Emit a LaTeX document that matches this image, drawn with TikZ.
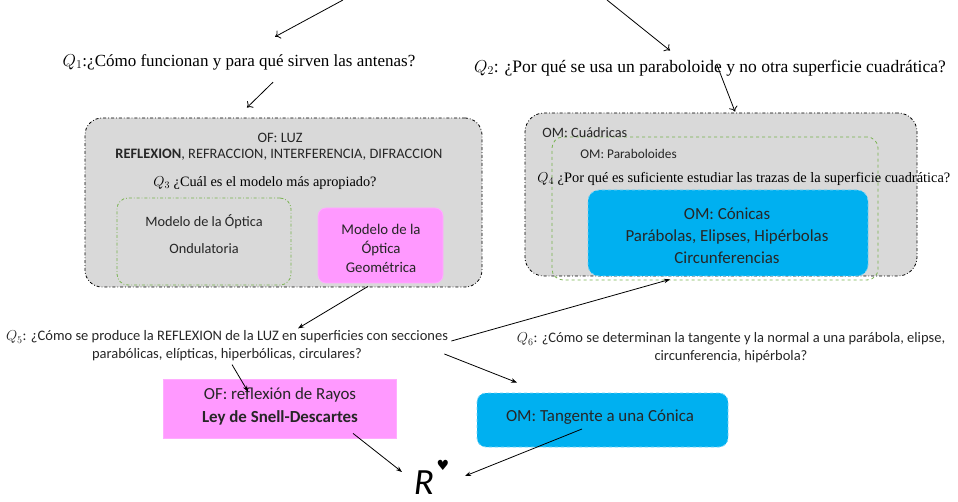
\documentclass[tikz,border=0pt]{standalone}
\usepackage{fontspec}
\setmainfont{Liberation Serif}
\newfontfamily\calib{Carlito}
\newfontfamily\dejav{DejaVu Sans}
\usetikzlibrary{arrows.meta}
\definecolor{grisbox}{RGB}{217,217,217}
\definecolor{rosa}{RGB}{255,153,255}
\definecolor{cian}{RGB}{0,176,240}
\definecolor{verde}{RGB}{120,178,78}
\newcommand{\pxsize}[2]{\fontsize{#1}{#2}\selectfont}

\begin{document}
\begin{tikzpicture}[x=1pt, y=-1pt, line width=0.8pt,
  serif/.style={inner sep=0pt, font=\pxsize{17}{19}},
  sans/.style={inner sep=0pt, align=center, text=black!85, font=\calib\pxsize{14.4}{18}},
  zona/.style={draw, dash dot, fill=grisbox, rounded corners=17pt},
  subzona/.style={draw=verde, rounded corners=11pt},
  rosabox/.style={fill=rosa, draw=rosa!80},
  cianbox/.style={fill=cian, draw=cian!55, dashed, rounded corners=9pt},
  abierta/.style={-{To[length=5pt,width=9pt]}},
  llena/.style={-{Stealth[length=6pt,width=4.5pt]}}]

  \useasboundingbox (0,0) rectangle (958,502);

  % preguntas de arriba
  \coordinate (t1) at (343,0);
  \coordinate (t2) at (607,0);
  \node[serif] (q1) at (239,62) {$Q_1$:¿Cómo funcionan y para qué sirven las antenas?};
  \node[serif, font=\pxsize{17.5}{19}] (q2) at (710,68) {$Q_2$: ¿Por qué se usa un paraboloide y no otra superficie cuadrática?};

  % OF: luz
  \node[zona, minimum width=397, minimum height=169] (luz) at (283.5,202.5) {};
  \node[sans] (ofluz) at (280,138) {OF: LUZ};
  \node[sans] (fen) at (279,155) {\textbf{REFLEXION}, REFRACCION, INTERFERENCIA, DIFRACCION};
  \node[serif, font=\pxsize{14.3}{16}] (q3) at (265,183) {$Q_3$ ¿Cuál es el modelo más apropiado?};
  \node[subzona, dash dot, minimum width=174, minimum height=87] (ond) at (204,241.5) {};
  \node[sans, font=\calib\pxsize{14.3}{27}] (ondtx) at (204,234.5) {Modelo de la Óptica\\ Ondulatoria};
  \node[rosabox, rounded corners=8pt, minimum width=125, minimum height=75] (geo) at (380.5,245.5) {};
  \node[sans, font=\calib\pxsize{14.8}{19}] (geotx) at (381,248) {Modelo de la\\ Óptica\\ Geométrica};

  % OM: cuadricas
  \node[zona, rounded corners=19pt, minimum width=392, minimum height=163] (om) at (721,194.5) {};
  \node[subzona, dashed, minimum width=326, minimum height=143] (parab) at (715,208.5) {};
  \node[sans, anchor=west, font=\calib\pxsize{14.3}{16}] (cuad) at (542,133) {OM: Cuádricas};
  \node[sans, anchor=west, font=\calib\pxsize{13.3}{16}] (partx) at (580,154) {OM: Paraboloides};
  \node[serif, anchor=west, font=\pxsize{14.4}{16}] (q4) at (537,179) {$Q_4$ ¿Por qué es suficiente estudiar las trazas de la superficie cuadrática?};
  \node[cianbox, rounded corners=11pt, minimum width=280, minimum height=86] (con) at (728,233) {};
  \node[sans, font=\calib\pxsize{16.9}{22}] (contx) at (727,236) {OM: Cónicas\\ Parábolas, Elipses, Hipérbolas\\ Circunferencias};

  % preguntas de abajo
  \node[sans, font=\calib\pxsize{14.5}{18}] (q5) at (227,346) {$Q_5$: ¿Cómo se produce la REFLEXION de la LUZ en superficies con secciones\\ parabólicas, elípticas, hiperbólicas, circulares?};
  \node[sans, font=\calib\pxsize{14.5}{18}] (q6) at (731,348) {$Q_6$: ¿Cómo se determinan la tangente y la normal a una parábola, elipse,\\ circunferencia, hipérbola?};

  \node[rosabox, minimum width=233, minimum height=59] (of) at (279.5,408.5) {};
  \node[sans, font=\calib\pxsize{16.9}{23}] (oftx) at (280,406.5) {OF: reflexión de Rayos\\ \textbf{Ley de Snell-Descartes}};
  \node[cianbox, minimum width=251, minimum height=54] (tan) at (602.5,420) {};
  \node[sans, font=\calib\pxsize{16.9}{18}] (tantx) at (600,417) {OM: Tangente a una Cónica};

  \node[inner sep=0pt, text depth=0pt, anchor=base, font=\calib\itshape\pxsize{37}{37}] (r) at (424,494) {R};
  \node[inner sep=0pt, font=\dejav\pxsize{14}{14}] (cor) at (443,465) {♥};

  \draw[abierta] (t1) -- ([shift={(36,-17)}]q1.north);
  \draw[abierta] (t2) -- ([shift={(-40,-9)}]q2.north);
  \draw[abierta] ([shift={(34,12)}]q1.south) -- ([shift={(-36.5,-10)}]luz.north);
  \draw[abierta] ([shift={(7,-3)}]q2.center) -- ([shift={(14,-1)}]om.north);

  \draw[llena] ([shift={(-12.5,3)}]geo.south) -- ([shift={(71,-2)}]q5.north);
  \draw[llena] ([shift={(3,-5)}]q5.east) -- ([shift={(-58,3)}]con.south);
  \draw[llena] ([shift={(-4,8)}]q5.east) -- ([shift={(-85.5,-10)}]tan.north);
  \draw[llena] ([shift={(5,3)}]q5.south) -- ([shift={(-31.5,13)}]of.north);
  \draw[llena] ([shift={(73.5,-5)}]of.south) -- ([shift={(-22,-22)}]r.base);
  \draw[llena] ([shift={(-20.5,9)}]tan.center) -- ([shift={(41,-18)}]r.base);
\end{tikzpicture}
\end{document}
